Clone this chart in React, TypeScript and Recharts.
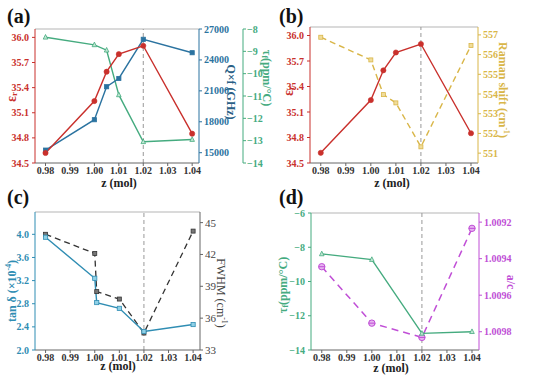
import React from 'react';
import { ComposedChart, Line, XAxis, YAxis, ReferenceLine, Label } from 'recharts';

// compositions
const zMain = [0.98, 1.0, 1.005, 1.01, 1.02, 1.04];
const zLoss = [0.98, 1.0, 1.0008, 1.01, 1.02, 1.04];
const zLattice = [0.98, 1.0, 1.02, 1.04];

// (a) and (b)
const epsR = [34.62, 35.24, 35.59, 35.8, 35.9, 34.85];
const qf = [15250, 18200, 21400, 22200, 26000, 24700];
const tauA = [-8.37, -8.71, -8.95, -10.95, -13.05, -12.95];
const ramanShift = [556.88, 555.73, 553.97, 553.55, 551.32, 556.46];

// (c)
const tanDelta = [3.95, 3.24, 2.82, 2.72, 2.32, 2.44];
const fwhm = [43.9, 42.1, 38.5, 37.8, 34.6, 44.2];

// (d)
const tauD = [-8.39, -8.72, -13.03, -12.93];
const acRatio = [1.009444, 1.009753, 1.009831, 1.009234];

// ticks
const zTicks = [0.98, 0.99, 1.0, 1.01, 1.02, 1.03, 1.04];
const epsTicks = [34.5, 34.8, 35.1, 35.4, 35.7, 36.0];
const qfTicks = [15000, 18000, 21000, 24000, 27000];
const tauTicksA = [-14, -13, -12, -11, -10, -9, -8];
const ramanTicks = [551, 552, 553, 554, 555, 556, 557];
const tanTicks = [2.0, 2.4, 2.8, 3.2, 3.6, 4.0];
const fwhmTicks = [33, 36, 39, 42, 45];
const tauTicksD = [-14, -12, -10, -8, -6];
const acTicks = [1.0092, 1.0094, 1.0096, 1.0098];

const X_DOMAIN = [0.9757, 1.0428];
const SERIF = '"Liberation Serif", "DejaVu Serif", serif';

const RED = '#c9302c';
const QF_BLUE = '#2b73a0';
const GREEN = '#45ab7f';
const YELLOW = '#d9b648';
const TAN_BLUE = '#2f8db3';
const DARK = '#333333';
const PURPLE = '#c04ed6';
const AXIS_GREY = '#666666';
const FRAME_GREY = '#b5b5b5';

const minus = (s: string) => s.replace('-', '\u2212');

const tickStyle = (color: string) => ({
  fill: color,
  fontSize: 10,
  fontWeight: 'bold',
  fontFamily: SERIF,
});

function Title({ x, y, angle = 0, color, size = 12, weight = 'bold', children }: any) {
  return (
    <text
      transform={`translate(${x},${y}) rotate(${angle})`}
      textAnchor="middle"
      dominantBaseline="central"
      fill={color}
      fontFamily={SERIF}
      fontWeight={weight}
      fontSize={size}
    >
      {children}
    </text>
  );
}

const circleDot = (color: string, r = 2.6) => (p: any) => (
  <circle key={`c${p.index}`} cx={p.cx} cy={p.cy} r={r} fill={color} stroke={color} strokeWidth={0.6} />
);

const squareDot = (color: string, s = 4.2, fill = color) => (p: any) => (
  <rect key={`s${p.index}`} x={p.cx - s / 2} y={p.cy - s / 2} width={s} height={s} fill={fill} stroke={color} strokeWidth={0.8} />
);

const triDot = (color: string, s = 4.6, fill = '#bfe6d2') => (p: any) => (
  <polygon
    key={`t${p.index}`}
    points={`${p.cx},${p.cy - s * 0.6} ${p.cx - s / 2},${p.cy + s * 0.4} ${p.cx + s / 2},${p.cy + s * 0.4}`}
    fill={fill}
    stroke={color}
    strokeWidth={0.8}
  />
);

const diamondDot = (color: string, r = 3.2) => (p: any) => (
  <g key={`d${p.index}`}>
    <circle cx={p.cx} cy={p.cy} r={r} fill="#e6b3f0" stroke={color} strokeWidth={1} />
    <line x1={p.cx - r} y1={p.cy} x2={p.cx + r} y2={p.cy} stroke={color} strokeWidth={1} />
  </g>
);

function xAxisFor(titleX: number, titleY: number) {
  return (
    <XAxis
      type="number"
      dataKey="z"
      domain={X_DOMAIN}
      ticks={zTicks}
      interval={0}
      allowDataOverflow
      height={27}
      stroke={AXIS_GREY}
      tickSize={3}
      tickMargin={1}
      tick={tickStyle('#333')}
      tickFormatter={(v: number) => v.toFixed(2)}
    >
      <Label content={() => <Title x={titleX} y={titleY} color="#222" size={12}>z (mol)</Title>} />
    </XAxis>
  );
}

function PanelA() {
  const rows = zMain.map((z, i) => ({ z, eps: epsR[i], qf: qf[i], tau: tauA[i] }));
  return (
    <ComposedChart width={275} height={190} data={rows} margin={{ top: 29, right: 0, bottom: 0, left: 0 }}>
      {xAxisFor(119, 183)}
      <YAxis
        yAxisId="eps"
        type="number"
        domain={[34.5, 36.1]}
        ticks={epsTicks}
        interval={0}
        allowDataOverflow
        width={35}
        stroke={RED}
        tickSize={3}
        tickMargin={3}
        tick={tickStyle(RED)}
        tickFormatter={(v: number) => v.toFixed(1)}
      >
        <Label
          content={() => (
            <Title x={11} y={97} angle={-90} color={RED} size={14}>
              ε<tspan fontSize="0.65em" dy="0.3em">r</tspan>
            </Title>
          )}
        />
      </YAxis>
      <YAxis
        yAxisId="qf"
        orientation="right"
        type="number"
        domain={[14000, 27000]}
        ticks={qfTicks}
        interval={0}
        allowDataOverflow
        width={44}
        stroke={QF_BLUE}
        tickSize={3}
        tickMargin={2}
        tick={tickStyle(QF_BLUE)}
      >
        <Label content={() => <Title x={231} y={92} angle={90} color="#2a5f86" size={12}>Q×f (GHz)</Title>} />
      </YAxis>
      <YAxis
        yAxisId="tau"
        orientation="right"
        type="number"
        domain={[-14, -8]}
        ticks={tauTicksA}
        interval={0}
        allowDataOverflow
        width={32}
        stroke={GREEN}
        tickSize={3}
        tickMargin={1}
        tick={tickStyle(GREEN)}
        tickFormatter={(v: number) => minus(String(v))}
      >
        <Label
          content={() => (
            <Title x={267} y={78} angle={90} color={GREEN} size={12}>
              τ<tspan fontSize="0.65em" dy="0.3em">f</tspan>
              <tspan dy="-0.2em">(ppm/°C)</tspan>
            </Title>
          )}
        />
      </YAxis>
      <ReferenceLine yAxisId="eps" y={36.1} stroke={FRAME_GREY} />
      <ReferenceLine yAxisId="eps" x={1.02} stroke="#999" strokeDasharray="4 3" />
      <Line yAxisId="tau" dataKey="tau" stroke={GREEN} strokeWidth={1.4} dot={triDot(GREEN)} isAnimationActive={false} />
      <Line yAxisId="qf" dataKey="qf" stroke={QF_BLUE} strokeWidth={1.4} dot={squareDot(QF_BLUE)} isAnimationActive={false} />
      <Line yAxisId="eps" dataKey="eps" stroke={RED} strokeWidth={1.4} dot={circleDot(RED)} isAnimationActive={false} />
    </ComposedChart>
  );
}

function PanelB() {
  const rows = zMain.map((z, i) => ({ z, eps: epsR[i], raman: ramanShift[i] }));
  return (
    <ComposedChart width={270} height={190} data={rows} margin={{ top: 27, right: 0, bottom: 0, left: 0 }}>
      {xAxisFor(129, 183)}
      <YAxis
        yAxisId="eps"
        type="number"
        domain={[34.5, 36.1]}
        ticks={epsTicks}
        interval={0}
        allowDataOverflow
        width={47}
        stroke={RED}
        tickSize={3}
        tickMargin={3}
        tick={tickStyle(RED)}
        tickFormatter={(v: number) => v.toFixed(1)}
      >
        <Label
          content={() => (
            <Title x={25} y={91} angle={-90} color={RED} size={14}>
              ε<tspan fontSize="0.65em" dy="0.3em">r</tspan>
            </Title>
          )}
        />
      </YAxis>
      <YAxis
        yAxisId="raman"
        orientation="right"
        type="number"
        domain={[550.5, 557.4]}
        ticks={ramanTicks}
        interval={0}
        allowDataOverflow
        width={55}
        stroke={YELLOW}
        tickSize={3}
        tickMargin={2}
        tick={tickStyle(YELLOW)}
      >
        <Label
          content={() => (
            <Title x={240} y={90} angle={90} color={YELLOW} size={12}>
              Raman shift (cm<tspan fontSize="0.65em" dy="-0.5em">-1</tspan>
              <tspan dy="0.35em">)</tspan>
            </Title>
          )}
        />
      </YAxis>
      <ReferenceLine yAxisId="eps" y={36.1} stroke={FRAME_GREY} />
      <ReferenceLine yAxisId="eps" x={1.02} stroke="#999" strokeDasharray="4 3" />
      <Line yAxisId="raman" dataKey="raman" stroke={YELLOW} strokeWidth={1.4} strokeDasharray="6 4" dot={squareDot(YELLOW, 4, '#f0dc9a')} isAnimationActive={false} />
      <Line yAxisId="eps" dataKey="eps" stroke={RED} strokeWidth={1.4} dot={circleDot(RED)} isAnimationActive={false} />
    </ComposedChart>
  );
}

function PanelC() {
  const rows = zLoss.map((z, i) => ({ z, tan: tanDelta[i], fwhm: fwhm[i] }));
  return (
    <ComposedChart width={263} height={192} data={rows} margin={{ top: 27, right: 0, bottom: 0, left: 0 }}>
      {xAxisFor(118, 181)}
      <YAxis
        yAxisId="tan"
        type="number"
        domain={[2.0, 4.386]}
        ticks={tanTicks}
        interval={0}
        allowDataOverflow
        width={35}
        stroke={TAN_BLUE}
        tickSize={3}
        tickMargin={3}
        tick={tickStyle(TAN_BLUE)}
        tickFormatter={(v: number) => v.toFixed(1)}
      >
        <Label
          content={() => (
            <Title x={12} y={106} angle={-90} color={TAN_BLUE} size={12}>
              tan δ (×10<tspan fontSize="0.65em" dy="-0.5em">-4</tspan>
              <tspan dy="0.35em">)</tspan>
            </Title>
          )}
        />
      </YAxis>
      <YAxis
        yAxisId="fwhm"
        orientation="right"
        type="number"
        domain={[33, 46]}
        ticks={fwhmTicks}
        interval={0}
        allowDataOverflow
        width={63}
        stroke={AXIS_GREY}
        tickSize={3}
        tickMargin={2}
        tick={{ ...tickStyle('#444'), fontWeight: 'normal', fontSize: 11 }}
      >
        <Label
          content={() => (
            <Title x={221} y={108} angle={90} color="#444" size={12} weight="normal">
              FWHM (cm<tspan fontSize="0.65em" dy="-0.5em">-1</tspan>
              <tspan dy="0.35em">)</tspan>
            </Title>
          )}
        />
      </YAxis>
      <ReferenceLine yAxisId="tan" y={4.386} stroke={FRAME_GREY} />
      <ReferenceLine yAxisId="tan" x={1.02} stroke="#999" strokeDasharray="4 3" />
      <Line yAxisId="fwhm" dataKey="fwhm" stroke={DARK} strokeWidth={1.3} strokeDasharray="6 4" dot={squareDot(DARK, 4, '#777')} isAnimationActive={false} />
      <Line yAxisId="tan" dataKey="tan" stroke={TAN_BLUE} strokeWidth={1.4} dot={squareDot(TAN_BLUE, 4.2, '#8fd0e6')} isAnimationActive={false} />
    </ComposedChart>
  );
}

function PanelD() {
  const rows = zLattice.map((z, i) => ({ z, tau: tauD[i], ac: acRatio[i] }));
  return (
    <ComposedChart width={270} height={192} data={rows} margin={{ top: 28, right: 0, bottom: 0, left: 0 }}>
      {xAxisFor(128, 183)}
      <YAxis
        yAxisId="tau"
        type="number"
        domain={[-14, -6]}
        ticks={tauTicksD}
        interval={0}
        allowDataOverflow
        width={48}
        stroke={GREEN}
        tickSize={3}
        tickMargin={3}
        tick={tickStyle(GREEN)}
        tickFormatter={(v: number) => minus(String(v))}
      >
        <Label
          content={() => (
            <Title x={20} y={100} angle={-90} color={GREEN} size={12}>
              τ<tspan fontSize="0.65em" dy="0.3em">f</tspan>
              <tspan dy="-0.2em">(ppm/°C)</tspan>
            </Title>
          )}
        />
      </YAxis>
      <YAxis
        yAxisId="ac"
        orientation="right"
        type="number"
        domain={[1.00915, 1.0099]}
        reversed
        ticks={acTicks}
        interval={0}
        allowDataOverflow
        width={54}
        stroke={PURPLE}
        tickSize={3}
        tickMargin={2}
        tick={tickStyle(PURPLE)}
        tickFormatter={(v: number) => v.toFixed(4)}
      >
        <Label content={() => <Title x={248} y={97} angle={90} color={PURPLE} size={12}>a/c</Title>} />
      </YAxis>
      <ReferenceLine yAxisId="tau" y={-6} stroke={FRAME_GREY} />
      <ReferenceLine yAxisId="tau" x={1.02} stroke="#999" strokeDasharray="4 3" />
      <Line yAxisId="ac" dataKey="ac" stroke={PURPLE} strokeWidth={1.5} strokeDasharray="7 5" dot={diamondDot(PURPLE)} isAnimationActive={false} />
      <Line yAxisId="tau" dataKey="tau" stroke={GREEN} strokeWidth={1.4} dot={triDot(GREEN)} isAnimationActive={false} />
    </ComposedChart>
  );
}

const letterStyle: React.CSSProperties = {
  position: 'absolute',
  fontFamily: SERIF,
  fontWeight: 'bold',
  fontSize: 20,
  lineHeight: '17px',
  color: '#111',
};

const css = `
.recharts-text, .recharts-cartesian-axis-tick-value { font-family: "Liberation Serif", "DejaVu Serif", serif; }
`;

export default function App() {
  return (
    <div style={{ position: 'absolute', left: 0, top: 0, width: 533, height: 377, background: '#fff', overflow: 'hidden', fontFamily: SERIF }}>
      <style>{css}</style>
      <div style={{ position: 'absolute', left: 0, top: 0 }}><PanelA /></div>
      <div style={{ position: 'absolute', left: 263, top: 0 }}><PanelB /></div>
      <div style={{ position: 'absolute', left: 0, top: 185 }}><PanelC /></div>
      <div style={{ position: 'absolute', left: 263, top: 185 }}><PanelD /></div>
      <div style={{ ...letterStyle, left: 7, top: 8 }}>(a)</div>
      <div style={{ ...letterStyle, left: 279, top: 8 }}>(b)</div>
      <div style={{ ...letterStyle, left: 7, top: 189 }}>(c)</div>
      <div style={{ ...letterStyle, left: 279, top: 189 }}>(d)</div>
    </div>
  );
}
